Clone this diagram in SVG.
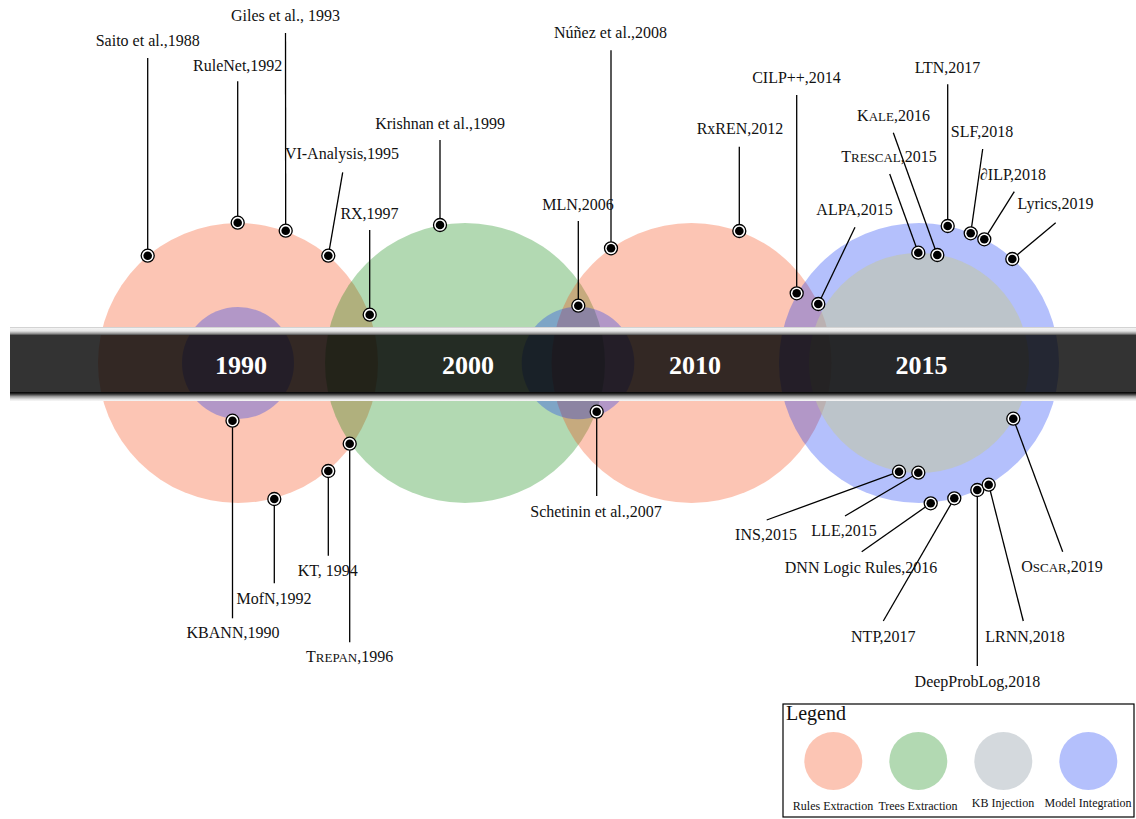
<svg xmlns="http://www.w3.org/2000/svg" width="1136" height="819" viewBox="0 0 1136 819">
<style>
.t{font-family:"Liberation Serif","Times New Roman",serif;font-size:16px;fill:#111;text-anchor:middle}
.sc{font-size:13px}
.yr{font-family:"Liberation Serif","Times New Roman",serif;font-size:26px;font-weight:bold;fill:#fff;text-anchor:middle}
.lg{font-family:"Liberation Serif","Times New Roman",serif;font-size:12px;fill:#111;text-anchor:middle}
.rules{fill:rgb(245,62,5);fill-opacity:.3}
.trees{fill:rgb(0,128,0);fill-opacity:.3}
.kb{fill:rgb(112,128,144);fill-opacity:.3}
.model{fill:rgb(5,45,245);fill-opacity:.3}
.kbin{fill:rgb(195,199,160);fill-opacity:.55}
#connectors line{stroke:#000;stroke-width:1.3}
.ring{fill:#fff;stroke:#000;stroke-width:1.3}
</style>
<defs>
<linearGradient id="capTop" x1="0" y1="0" x2="0" y2="1">
<stop offset="0" stop-color="#bdbdbd"/>
<stop offset="0.15" stop-color="#f2f2f2"/>
<stop offset="0.5" stop-color="#e6e6e6"/>
<stop offset="0.8" stop-color="#9a9a9a"/>
<stop offset="1" stop-color="#4a4a4a"/>
</linearGradient>
<linearGradient id="capBot" x1="0" y1="0" x2="0" y2="1">
<stop offset="0" stop-color="#000"/>
<stop offset="0.2" stop-color="#2a2a2a"/>
<stop offset="0.5" stop-color="#9a9a9a"/>
<stop offset="0.8" stop-color="#e2e2e2"/>
<stop offset="1" stop-color="#f8f8f8"/>
</linearGradient>
<g id="dot"><circle class="ring" r="6.5"/><circle r="4.3" fill="#000"/></g>
</defs>
<rect width="1136" height="819" fill="#fff"/>
<g id="eras">
<circle class="rules" cx="238" cy="363" r="140"/>
<circle class="trees" cx="465" cy="363" r="140"/>
<circle class="rules" cx="691.5" cy="363" r="140"/>
<circle class="model" cx="919" cy="363" r="140"/>
<circle class="kbin" cx="919" cy="363" r="110"/>
<circle class="model" cx="238" cy="363" r="56"/>
<circle class="model" cx="578" cy="363" r="56.3"/>
</g>
<g id="timeline">
<rect x="10" y="327" width="1126" height="8" fill="url(#capTop)"/>
<rect x="10" y="335" width="1126" height="57" fill="#000" fill-opacity="0.8"/>
<rect x="10" y="392" width="1126" height="9" fill="url(#capBot)"/>
<text class="yr" x="241" y="373.5">1990</text>
<text class="yr" x="468" y="373.5">2000</text>
<text class="yr" x="695" y="373.5">2010</text>
<text class="yr" x="921.5" y="373.5">2015</text>
</g>
<g id="connectors">
<line x1="147.7" y1="58" x2="147.7" y2="255.7"/>
<line x1="237.7" y1="81.3" x2="237.7" y2="222.7"/>
<line x1="285.5" y1="33" x2="285.7" y2="230.7"/>
<line x1="342.7" y1="172.3" x2="328.3" y2="255.7"/>
<line x1="369.7" y1="230" x2="369.7" y2="314.7"/>
<line x1="440" y1="140" x2="440" y2="225"/>
<line x1="611" y1="50.3" x2="611" y2="248.3"/>
<line x1="578.3" y1="221" x2="578.3" y2="305.7"/>
<line x1="739.3" y1="146.7" x2="739.3" y2="231"/>
<line x1="796.7" y1="95" x2="796.7" y2="293.3"/>
<line x1="855" y1="227.3" x2="818.3" y2="304"/>
<line x1="889.7" y1="174" x2="918.3" y2="252.7"/>
<line x1="893.3" y1="132.7" x2="937.3" y2="255"/>
<line x1="947.7" y1="84.3" x2="947.7" y2="226"/>
<line x1="982.7" y1="149" x2="970.7" y2="233.3"/>
<line x1="1014.3" y1="191.7" x2="984.3" y2="239.3"/>
<line x1="1055.7" y1="222.7" x2="1012.3" y2="259"/>
<line x1="232.5" y1="420.7" x2="232.5" y2="618.3"/>
<line x1="274.3" y1="499" x2="274.3" y2="583.3"/>
<line x1="328.3" y1="471" x2="328.3" y2="555.7"/>
<line x1="349.7" y1="443.7" x2="349.7" y2="642.3"/>
<line x1="596.7" y1="411.7" x2="596.7" y2="496"/>
<line x1="899" y1="471.7" x2="766.7" y2="520"/>
<line x1="918.3" y1="472.7" x2="845" y2="516"/>
<line x1="930.7" y1="503.3" x2="861.7" y2="551.7"/>
<line x1="954.3" y1="498.3" x2="883.3" y2="621"/>
<line x1="977.3" y1="490" x2="977.3" y2="666"/>
<line x1="988.7" y1="484.7" x2="1023.3" y2="621"/>
<line x1="1013.3" y1="418.7" x2="1062.7" y2="551.7"/>
</g>
<g id="saito1988"><use href="#dot" x="147.7" y="255.7"/><text class="t" x="147.7" y="46">Saito et al.,1988</text></g>
<g id="rulenet1992"><use href="#dot" x="237.7" y="222.7"/><text class="t" x="237.7" y="70.7">RuleNet,1992</text></g>
<g id="giles1993"><use href="#dot" x="285.7" y="230.7"/><text class="t" x="285.5" y="20.7">Giles et al., 1993</text></g>
<g id="vianalysis1995"><use href="#dot" x="328.3" y="255.7"/><text class="t" x="342" y="159.3">VI-Analysis,1995</text></g>
<g id="rx1997"><use href="#dot" x="369.7" y="314.7"/><text class="t" x="369.5" y="219">RX,1997</text></g>
<g id="krishnan1999"><use href="#dot" x="440" y="225"/><text class="t" x="440" y="128.7">Krishnan et al.,1999</text></g>
<g id="nunez2008"><use href="#dot" x="611" y="248.3"/><text class="t" x="610.5" y="37.7">Núñez et al.,2008</text></g>
<g id="mln2006"><use href="#dot" x="578.3" y="305.7"/><text class="t" x="578" y="210">MLN,2006</text></g>
<g id="rxren2012"><use href="#dot" x="739.3" y="231"/><text class="t" x="740" y="134.3">RxREN,2012</text></g>
<g id="cilp2014"><use href="#dot" x="796.7" y="293.3"/><text class="t" x="796.5" y="82.7">CILP++,2014</text></g>
<g id="alpa2015"><use href="#dot" x="818.3" y="304"/><text class="t" x="854.5" y="215">ALPA,2015</text></g>
<g id="trescal2015"><use href="#dot" x="918.3" y="252.7"/><text class="t" x="889" y="161.7">T<tspan class="sc">RESCAL</tspan>,2015</text></g>
<g id="kale2016"><use href="#dot" x="937.3" y="255"/><text class="t" x="893.5" y="121">K<tspan class="sc">ALE</tspan>,2016</text></g>
<g id="ltn2017"><use href="#dot" x="947.7" y="226"/><text class="t" x="947.5" y="72.7">LTN,2017</text></g>
<g id="slf2018"><use href="#dot" x="970.7" y="233.3"/><text class="t" x="982" y="136.7">SLF,2018</text></g>
<g id="dilp2018"><use href="#dot" x="984.3" y="239.3"/><text class="t" x="1013" y="180">∂ILP,2018</text></g>
<g id="lyrics2019"><use href="#dot" x="1012.3" y="259"/><text class="t" x="1055.5" y="209">Lyrics,2019</text></g>
<g id="kbann1990"><use href="#dot" x="232.5" y="420.7"/><text class="t" x="233" y="638.3">KBANN,1990</text></g>
<g id="mofn1992"><use href="#dot" x="274.3" y="499"/><text class="t" x="274" y="604.3">MofN,1992</text></g>
<g id="kt1994"><use href="#dot" x="328.3" y="471"/><text class="t" x="327.8" y="575.7">KT, 1994</text></g>
<g id="trepan1996"><use href="#dot" x="349.7" y="443.7"/><text class="t" x="349.6" y="662.3">T<tspan class="sc">REPAN</tspan>,1996</text></g>
<g id="schetinin2007"><use href="#dot" x="596.7" y="411.7"/><text class="t" x="596" y="516.7">Schetinin et al.,2007</text></g>
<g id="ins2015"><use href="#dot" x="899" y="471.7"/><text class="t" x="766" y="540">INS,2015</text></g>
<g id="lle2015"><use href="#dot" x="918.3" y="472.7"/><text class="t" x="844" y="536">LLE,2015</text></g>
<g id="dnnlogic2016"><use href="#dot" x="930.7" y="503.3"/><text class="t" x="861" y="572.7">DNN Logic Rules,2016</text></g>
<g id="ntp2017"><use href="#dot" x="954.3" y="498.3"/><text class="t" x="883.3" y="641.7">NTP,2017</text></g>
<g id="deepproblog2018"><use href="#dot" x="977.3" y="490"/><text class="t" x="977.5" y="686.7">DeepProbLog,2018</text></g>
<g id="lrnn2018"><use href="#dot" x="988.7" y="484.7"/><text class="t" x="1025" y="641.7">LRNN,2018</text></g>
<g id="oscar2019"><use href="#dot" x="1013.3" y="418.7"/><text class="t" x="1062" y="571.7">O<tspan class="sc">SCAR</tspan>,2019</text></g>
<g id="legend">
<rect x="783" y="704" width="351" height="113" fill="#fff" stroke="#000" stroke-width="1.2"/>
<text x="786" y="720" font-family="Liberation Serif, Times New Roman, serif" font-size="20" fill="#111">Legend</text>
<circle class="rules" cx="833.3" cy="761" r="29"/>
<circle class="trees" cx="918.3" cy="761" r="29"/>
<circle class="kb" cx="1003.3" cy="761" r="29"/>
<circle class="model" cx="1088.3" cy="761" r="29"/>
<text class="lg" x="833" y="810">Rules Extraction</text>
<text class="lg" x="918" y="810">Trees Extraction</text>
<text class="lg" x="1003" y="806.7">KB Injection</text>
<text class="lg" x="1088" y="806.7">Model Integration</text>
</g>
</svg>
